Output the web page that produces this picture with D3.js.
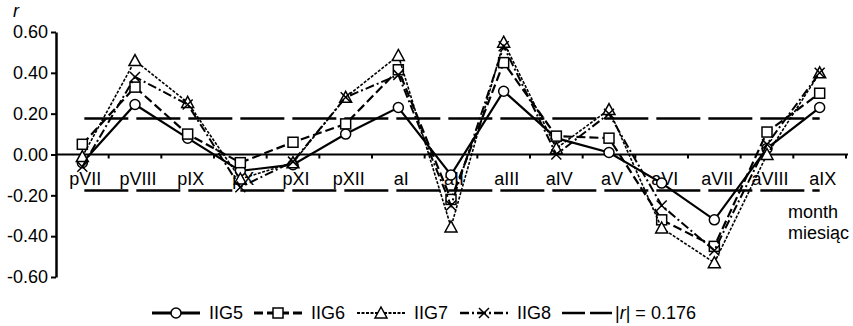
<!DOCTYPE html>
<html><head><meta charset="utf-8">
<script src="https://cdn.jsdelivr.net/npm/d3@7"></script>
<style>
body{margin:0;background:#fff;}
text{font-family:"Liberation Sans",Arial,sans-serif;fill:#000;}
</style></head>
<body><svg id="c" width="853" height="326"></svg>
<script>
const months = ["pVII","pVIII","pIX","pX","pXI","pXII","aI","aII","aIII","aIV","aV","aVI","aVII","aVIII","aIX"];
const IIG5 = [-0.04, 0.245, 0.08, -0.08, -0.05, 0.10, 0.23, -0.10, 0.31, 0.08, 0.01, -0.14, -0.32, 0.03, 0.23];
const IIG6 = [0.05, 0.33, 0.10, -0.04, 0.06, 0.15, 0.415, -0.22, 0.45, 0.09, 0.08, -0.32, -0.45, 0.11, 0.30];
const IIG7 = [-0.01, 0.46, 0.255, -0.12, -0.04, 0.28, 0.485, -0.355, 0.55, 0.03, 0.22, -0.36, -0.53, 0.00, 0.40];
const IIG8 = [-0.06, 0.38, 0.245, -0.16, -0.035, 0.28, 0.39, -0.25, 0.53, 0.00, 0.20, -0.25, -0.47, 0.05, 0.40];
const threshold = 0.176;
const yTicks = [-0.6, -0.4, -0.2, 0, 0.2, 0.4, 0.6];

const series = [
  {name:"IIG5", values:IIG5, dash:null, width:2.2, marker:"circle"},
  {name:"IIG6", values:IIG6, dash:"9,4", width:2.2, marker:"square"},
  {name:"IIG7", values:IIG7, dash:"3,1.5", width:1.6, marker:"triangle"},
  {name:"IIG8", values:IIG8, dash:"9,3,2,3", width:2.0, marker:"cross"}
];

const FS = 18;
const svg = d3.select("#c");
const x = d3.scaleBand().domain(months).range([56, 846]);
const cx = m => x(m) + x.bandwidth()/2;
const y = d3.scaleLinear().domain([-0.6, 0.6]).range([277, 32]);
const fmt = v => d3.format(".2f")(v).replace("−","-");

// threshold lines
[threshold, -threshold].forEach(t => {
  svg.append("line")
    .attr("x1", cx(months[0])+2).attr("x2", cx(months[months.length-1]))
    .attr("y1", y(t)).attr("y2", y(t))
    .attr("stroke","#000").attr("stroke-width",2.6)
    .attr("stroke-dasharray","44,8");
});

// y axis
const ya = svg.append("g").attr("transform","translate(56,0)")
  .call(d3.axisLeft(y).tickValues(yTicks).tickFormat(fmt).tickSize(5).tickSizeOuter(0));
ya.select(".domain").attr("stroke-width",2.5);
ya.selectAll(".tick line").attr("stroke-width",2);
ya.selectAll(".tick text").attr("font-size",FS).attr("font-family","Liberation Sans, Arial").attr("x",-8);

// x axis at 0
const y0 = y(0);
svg.append("line").attr("x1",56).attr("x2",848).attr("y1",y0).attr("y2",y0)
  .attr("stroke","#000").attr("stroke-width",2);
svg.selectAll(".xt").data(months).enter().append("line")
  .attr("x1",(d,i)=>x(d)+x.bandwidth())
  .attr("x2",(d,i)=>x(d)+x.bandwidth())
  .attr("y1",y0).attr("y2",y0+4).attr("stroke","#000").attr("stroke-width",2);
svg.selectAll(".xl").data(months).enter().append("text")
  .attr("x", d=>cx(d)+3).attr("y", 185).attr("text-anchor","middle")
  .attr("font-size",FS).text(d=>d);

// axis titles
svg.append("text").attr("x",13).attr("y",17).attr("font-size",FS).attr("font-style","italic").text("r");
svg.append("text").attr("x",788).attr("y",218).attr("font-size",FS).text("month");
svg.append("text").attr("x",788).attr("y",239).attr("font-size",FS).text("miesiąc");

// markers
function drawMarker(g, type, px, py){
  if(type==="circle"){
    g.append("circle").attr("cx",px).attr("cy",py).attr("r",5)
      .attr("fill","#fff").attr("stroke","#000").attr("stroke-width",1.5);
  } else if(type==="square"){
    g.append("rect").attr("x",px-5).attr("y",py-5).attr("width",10).attr("height",10)
      .attr("fill","#fff").attr("stroke","#000").attr("stroke-width",1.5);
  } else if(type==="triangle"){
    g.append("path").attr("d",`M${px},${py-6}L${px+6},${py+5}L${px-6},${py+5}Z`)
      .attr("fill","#fff").attr("stroke","#000").attr("stroke-width",1.5);
  } else {
    g.append("path").attr("d",`M${px-5},${py-5}L${px+5},${py+5}M${px-5},${py+5}L${px+5},${py-5}`)
      .attr("fill","none").attr("stroke","#000").attr("stroke-width",1.5);
  }
}

const line = d3.line().x((d,i)=>cx(months[i])).y(d=>y(d));
series.forEach(s => {
  const g = svg.append("g");
  g.append("path").datum(s.values).attr("d",line)
    .attr("fill","none").attr("stroke","#000").attr("stroke-width",s.width)
    .attr("stroke-dasharray",s.dash).attr("stroke-linejoin","miter");
  s.values.forEach((v,i)=>drawMarker(g, s.marker, cx(months[i]), y(v)));
});

// legend
const ly = 313;
const lg = svg.append("g");
const legendX = [152, 254, 357, 460];
series.forEach((s,i) => {
  const lx = legendX[i];
  lg.append("line").attr("x1",lx).attr("x2",lx+48).attr("y1",ly).attr("y2",ly)
    .attr("stroke","#000").attr("stroke-width",s.width+0.6).attr("stroke-dasharray",s.dash);
  drawMarker(lg, s.marker, lx+24, ly);
  lg.append("text").attr("x",lx+57).attr("y",ly+6).attr("font-size",FS).text(s.name);
});
lg.append("line").attr("x1",562).attr("x2",612).attr("y1",ly).attr("y2",ly)
  .attr("stroke","#000").attr("stroke-width",2.6).attr("stroke-dasharray","23,5");
const tt = lg.append("text").attr("x",615).attr("y",ly+6).attr("font-size",FS);
tt.append("tspan").text("|");
tt.append("tspan").attr("font-style","italic").text("r");
tt.append("tspan").text("| = 0.176");
</script></body></html>
